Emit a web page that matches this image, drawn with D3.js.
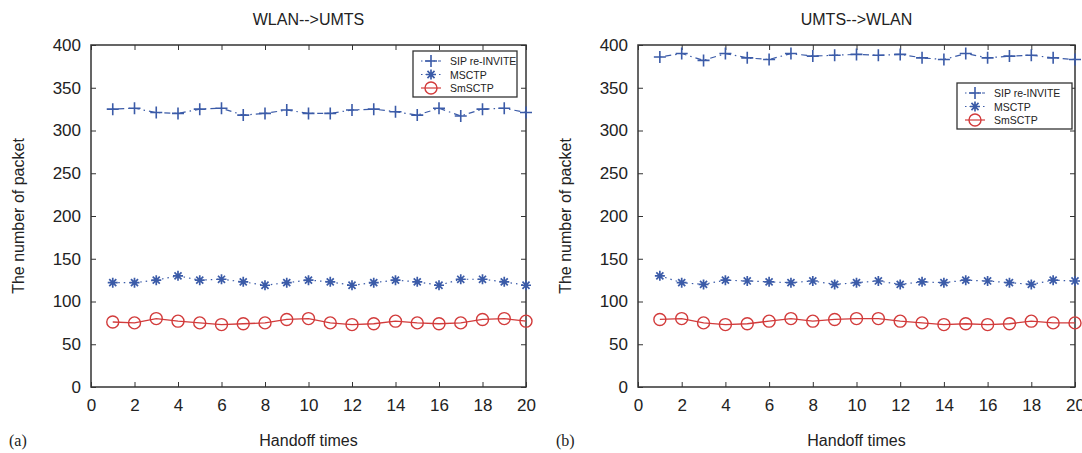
<!DOCTYPE html>
<html><head><meta charset="utf-8">
<script src="https://cdn.jsdelivr.net/npm/d3@7"></script>
<style>body{margin:0;background:#fff}text{font-family:"Liberation Sans",Arial,sans-serif;fill:#222}</style>
</head><body><svg id="c" width="1082" height="453"></svg>
<script>
const handoff = d3.range(1, 21);
const xTicks = [0,2,4,6,8,10,12,14,16,18,20];
const yTicks = [0,50,100,150,200,250,300,350,400];
const seriesNames = ["SIP re-INVITE","MSCTP","SmSCTP"];
// (a) WLAN-->UMTS
const aSIP   = [325,326,321,320,325,326,318,320,324,320,320,324,325,322,318,326,317,325,326,321];
const aMSCTP = [122,122,125,130,125,126,123,119,122,125,123,119,122,125,123,119,126,126,123,119];
const aSm    = [76,75,80,77,75,73,74,75,79,80,75,73,74,77,75,74,75,79,80,77];
// (b) UMTS-->WLAN
const bSIP   = [386,390,382,390,385,383,390,387,388,389,388,389,385,383,390,385,387,388,385,383];
const bMSCTP = [130,122,120,125,124,123,122,124,120,122,124,120,123,122,125,124,122,120,125,124];
const bSm    = [79,80,75,73,74,77,80,77,79,80,80,77,75,73,74,73,74,77,75,75];

const svg = d3.select("#c");
const blue = "#3b5ba8", red = "#d23b3b";

function panel(cfg){
  const g = svg.append("g");
  const x = d3.scaleLinear().domain([0,20]).range([cfg.x0, cfg.x1]);
  const y = d3.scaleLinear().domain([0,400]).range([387, 45]);
  // frame
  g.append("rect").attr("x",cfg.x0).attr("y",y(400)).attr("width",cfg.x1-cfg.x0).attr("height",y(0)-y(400))
    .attr("fill","none").attr("stroke","#333").attr("stroke-width",1.5);
  const ax = g.append("g").attr("transform",`translate(0,${y(0)})`)
    .call(d3.axisBottom(x).tickValues(xTicks).tickSize(-5).tickPadding(12));
  const axT = g.append("g").attr("transform",`translate(0,${y(400)})`)
    .call(d3.axisTop(x).tickValues(xTicks).tickSize(-5).tickFormat(""));
  const ay = g.append("g").attr("transform",`translate(${cfg.x0},0)`)
    .call(d3.axisLeft(y).tickValues(yTicks).tickSize(-5).tickPadding(10));
  const ayR = g.append("g").attr("transform",`translate(${cfg.x1},0)`)
    .call(d3.axisRight(y).tickValues(yTicks).tickSize(-5).tickFormat(""));
  [ax,axT,ay,ayR].forEach(a=>{a.select(".domain").remove();a.selectAll("line").attr("stroke","#333");
    a.selectAll("text").style("font-size","17px").attr("fill","#222");});
  g.append("text").attr("x",(cfg.x0+cfg.x1)/2).attr("y",25).attr("text-anchor","middle").style("font-size","16px").text(cfg.title);
  g.append("text").attr("x",(cfg.x0+cfg.x1)/2).attr("y",446).attr("text-anchor","middle").style("font-size","16px").text("Handoff times");
  g.append("text").attr("transform",`translate(${cfg.x0-67},${(y(0)+y(400))/2}) rotate(-90)`).attr("text-anchor","middle").style("font-size","16px").text("The number of packet");
  g.append("text").attr("x",cfg.x0-82).attr("y",446).style("font-size","16px").style("font-family","'Liberation Serif',serif").text(cfg.label);

  const line = d3.line().x((d,i)=>x(handoff[i])).y(d=>y(d));
  const clip = "clip"+cfg.label.replace(/\W/g,"");
  g.append("clipPath").attr("id",clip).append("rect").attr("x",cfg.x0).attr("y",0).attr("width",cfg.x1-cfg.x0+8).attr("height",453);
  const data = g.append("g").attr("clip-path",`url(#${clip})`);
  data.append("path").attr("d",line(cfg.sip)).attr("fill","none").attr("stroke",blue).attr("stroke-width",1.2).attr("stroke-dasharray","1.5,4,6,4");
  data.append("path").attr("d",line(cfg.ms)).attr("fill","none").attr("stroke",blue).attr("stroke-width",1.2).attr("stroke-dasharray","1.5,4");
  data.append("path").attr("d",line(cfg.sm)).attr("fill","none").attr("stroke",red).attr("stroke-width",1.3);
  const plus = (sel,cx,cy)=>{sel.append("path").attr("d",`M${cx-6},${cy}H${cx+6}M${cx},${cy-6}V${cy+6}`).attr("stroke",blue).attr("stroke-width",1.6).attr("fill","none");};
  const star = (sel,cx,cy)=>{let d="";for(let k=0;k<4;k++){const a=k*Math.PI/4;const dx=5*Math.cos(a),dy=5*Math.sin(a);d+=`M${cx-dx},${cy-dy}L${cx+dx},${cy+dy}`;}
    sel.append("path").attr("d",d).attr("stroke",blue).attr("stroke-width",1.7).attr("fill","none");};
  const circ = (sel,cx,cy)=>{sel.append("circle").attr("cx",cx).attr("cy",cy).attr("r",6).attr("fill","none").attr("stroke",red).attr("stroke-width",1.4);};
  cfg.sip.forEach((v,i)=>plus(data,x(handoff[i]),y(v)));
  cfg.ms.forEach((v,i)=>star(data,x(handoff[i]),y(v)));
  cfg.sm.forEach((v,i)=>circ(data,x(handoff[i]),y(v)));

  // legend
  const L = g.append("g").attr("transform",`translate(${cfg.lx},${cfg.ly})`);
  L.append("rect").attr("width",cfg.lw).attr("height",46).attr("fill","#fff").attr("stroke","#333").attr("stroke-width",1.3);
  const dashes=["1.5,3,5,3","1.5,3",null];
  seriesNames.forEach((n,i)=>{
    const yy=10+i*13.5;
    L.append("line").attr("x1",8).attr("x2",28).attr("y1",yy).attr("y2",yy).attr("stroke",i<2?blue:red).attr("stroke-width",1.2).attr("stroke-dasharray",dashes[i]);
    if(i===0) plus(L,18,yy); else if(i===1) star(L,18,yy); else circ(L,18,yy);
    L.append("text").attr("x",37).attr("y",yy+4).style("font-size","10.5px").text(n);
  });
}
panel({x0:91,x1:526,title:"WLAN-->UMTS",label:"(a)",sip:aSIP,ms:aMSCTP,sm:aSm,lx:413,ly:51,lw:104});
panel({x0:638,x1:1075,title:"UMTS-->WLAN",label:"(b)",sip:bSIP,ms:bMSCTP,sm:bSm,lx:957,ly:83,lw:115});
</script></body></html>
